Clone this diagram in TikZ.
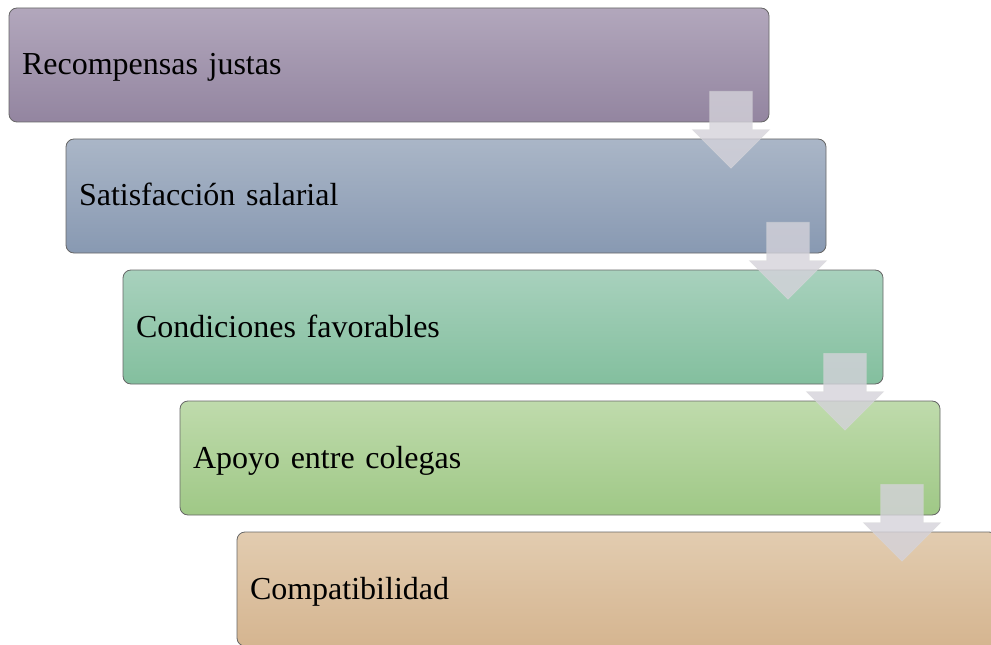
\documentclass[tikz,border=0pt]{standalone}
\usepackage{fontspec}
\setmainfont{Liberation Serif}
\usepackage{tikz}
\usetikzlibrary{shapes,arrows}
% colours of the steps
\definecolor{stepAtop}{RGB}{178,167,188}
\definecolor{stepAbot}{RGB}{147,133,160}
\definecolor{stepBtop}{RGB}{170,182,199}
\definecolor{stepBbot}{RGB}{136,153,178}
\definecolor{stepCtop}{RGB}{168,209,189}
\definecolor{stepCbot}{RGB}{131,191,158}
\definecolor{stepDtop}{RGB}{191,219,172}
\definecolor{stepDbot}{RGB}{159,200,134}
\definecolor{stepEtop}{RGB}{226,204,176}
\definecolor{stepEbot}{RGB}{213,181,144}
\definecolor{arrowgray}{RGB}{212,210,218}
\tikzstyle{stepbox}=[rectangle, draw=black!60, line width=0.6pt, rounded corners=6pt,
        minimum width=570pt, minimum height=85.5pt, inner sep=9.75pt,
        text width=550.5pt, text height=20pt, text depth=5pt, align=left,
        font=\fontsize{24}{28}\selectfont]
\tikzstyle{downarrow}=[single arrow, shape border rotate=270, anchor=tail,
        draw=white!85!black, fill=arrowgray, fill opacity=0.8, draw opacity=0.5,
        inner sep=15.75pt, minimum width=57.75pt, minimum height=57.75pt,
        single arrow head extend=13.1pt, single arrow head indent=0pt]

\begin{document}
\begin{tikzpicture}[x=0.75pt, y=-0.75pt]
\useasboundingbox (0,0) rectangle (991,645);
\node [stepbox, top color=stepAtop, bottom color=stepAbot] (box1) at (389,65) {Recompensas justas};
\node [stepbox, top color=stepBtop, bottom color=stepBbot] (box2) at (446,196) {Satisfacción salarial};
\node [stepbox, top color=stepCtop, bottom color=stepCbot] (box3) at (503,327) {Condiciones favorables};
\node [stepbox, top color=stepDtop, bottom color=stepDbot] (box4) at (560,458) {Apoyo entre colegas};
\node [stepbox, top color=stepEtop, bottom color=stepEbot] (box5) at (617,589) {Compatibilidad};
% arrows between the steps, hung from the tail
\node [downarrow] (arr1) at (731,91) {};
\node [downarrow] (arr2) at (788,222) {};
\node [downarrow] (arr3) at (845,353) {};
\node [downarrow] (arr4) at (902,484) {};
\end{tikzpicture}
\end{document}
